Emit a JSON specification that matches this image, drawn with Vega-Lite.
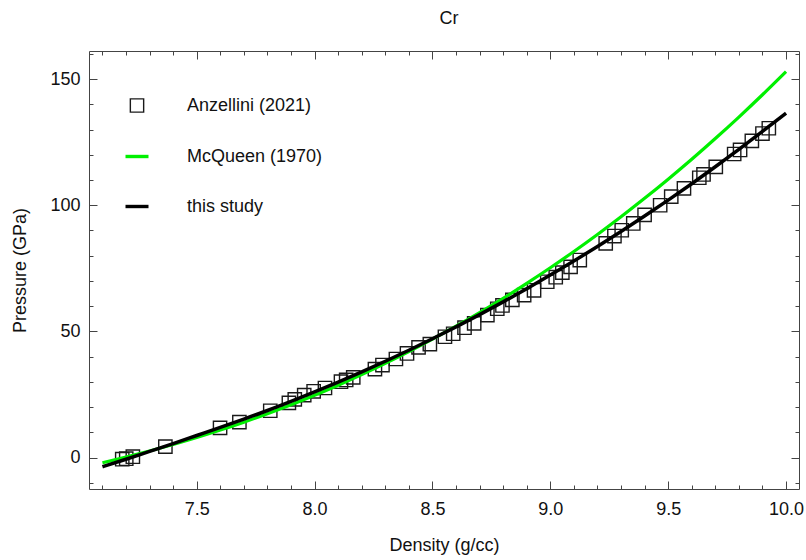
{
  "$schema": "https://vega.github.io/schema/vega-lite/v6.json",
  "width": 710,
  "height": 438,
  "autosize": "none",
  "padding": {"left": 89, "top": 51, "right": 7, "bottom": 71},
  "background": "white",
  "title": {"text": "Cr", "fontSize": 18, "font": "Liberation Sans", "fontWeight": "normal", "color": "#111", "baseline": "alphabetic", "offset": 3, "dx": 5},
  "config": {
    "view": {"stroke": null},
    "axis": {"labelFont": "Liberation Sans", "titleFont": "Liberation Sans", "labelFontSize": 18, "titleFontSize": 18, "titleFontWeight": "normal", "domainColor": "#444", "tickColor": "#444", "labelColor": "#111", "titleColor": "#111", "grid": false, "tickWidth": 1, "domainWidth": 1, "labelOverlap": false, "labelFlush": false},
    "legend": {"labelFont": "Liberation Sans"}
  },
  "data": {"values": [
    {"density": 7.184, "pressure": -0.6, "series": "Anzellini (2021)"},
    {"density": 7.201, "pressure": -0.4, "series": "Anzellini (2021)"},
    {"density": 7.229, "pressure": 0.4, "series": "Anzellini (2021)"},
    {"density": 7.367, "pressure": 4.4, "series": "Anzellini (2021)"},
    {"density": 7.599, "pressure": 11.8, "series": "Anzellini (2021)"},
    {"density": 7.681, "pressure": 14.1, "series": "Anzellini (2021)"},
    {"density": 7.812, "pressure": 18.6, "series": "Anzellini (2021)"},
    {"density": 7.891, "pressure": 21.7, "series": "Anzellini (2021)"},
    {"density": 7.916, "pressure": 23.1, "series": "Anzellini (2021)"},
    {"density": 7.956, "pressure": 24.8, "series": "Anzellini (2021)"},
    {"density": 7.996, "pressure": 26.3, "series": "Anzellini (2021)"},
    {"density": 8.044, "pressure": 27.6, "series": "Anzellini (2021)"},
    {"density": 8.112, "pressure": 30.1, "series": "Anzellini (2021)"},
    {"density": 8.134, "pressure": 30.8, "series": "Anzellini (2021)"},
    {"density": 8.164, "pressure": 31.8, "series": "Anzellini (2021)"},
    {"density": 8.256, "pressure": 35.1, "series": "Anzellini (2021)"},
    {"density": 8.288, "pressure": 36.7, "series": "Anzellini (2021)"},
    {"density": 8.345, "pressure": 39.1, "series": "Anzellini (2021)"},
    {"density": 8.392, "pressure": 41.3, "series": "Anzellini (2021)"},
    {"density": 8.441, "pressure": 43.7, "series": "Anzellini (2021)"},
    {"density": 8.489, "pressure": 45.0, "series": "Anzellini (2021)"},
    {"density": 8.553, "pressure": 47.9, "series": "Anzellini (2021)"},
    {"density": 8.588, "pressure": 49.1, "series": "Anzellini (2021)"},
    {"density": 8.636, "pressure": 51.5, "series": "Anzellini (2021)"},
    {"density": 8.677, "pressure": 53.2, "series": "Anzellini (2021)"},
    {"density": 8.733, "pressure": 56.5, "series": "Anzellini (2021)"},
    {"density": 8.775, "pressure": 59.0, "series": "Anzellini (2021)"},
    {"density": 8.797, "pressure": 60.3, "series": "Anzellini (2021)"},
    {"density": 8.839, "pressure": 62.5, "series": "Anzellini (2021)"},
    {"density": 8.889, "pressure": 64.4, "series": "Anzellini (2021)"},
    {"density": 8.931, "pressure": 66.3, "series": "Anzellini (2021)"},
    {"density": 8.987, "pressure": 69.7, "series": "Anzellini (2021)"},
    {"density": 9.023, "pressure": 71.5, "series": "Anzellini (2021)"},
    {"density": 9.051, "pressure": 73.3, "series": "Anzellini (2021)"},
    {"density": 9.086, "pressure": 75.6, "series": "Anzellini (2021)"},
    {"density": 9.125, "pressure": 78.3, "series": "Anzellini (2021)"},
    {"density": 9.235, "pressure": 84.9, "series": "Anzellini (2021)"},
    {"density": 9.272, "pressure": 87.8, "series": "Anzellini (2021)"},
    {"density": 9.303, "pressure": 90.1, "series": "Anzellini (2021)"},
    {"density": 9.352, "pressure": 92.8, "series": "Anzellini (2021)"},
    {"density": 9.400, "pressure": 96.2, "series": "Anzellini (2021)"},
    {"density": 9.466, "pressure": 100.0, "series": "Anzellini (2021)"},
    {"density": 9.513, "pressure": 103.4, "series": "Anzellini (2021)"},
    {"density": 9.567, "pressure": 106.7, "series": "Anzellini (2021)"},
    {"density": 9.632, "pressure": 110.9, "series": "Anzellini (2021)"},
    {"density": 9.650, "pressure": 112.2, "series": "Anzellini (2021)"},
    {"density": 9.702, "pressure": 115.2, "series": "Anzellini (2021)"},
    {"density": 9.780, "pressure": 120.3, "series": "Anzellini (2021)"},
    {"density": 9.805, "pressure": 121.9, "series": "Anzellini (2021)"},
    {"density": 9.855, "pressure": 125.5, "series": "Anzellini (2021)"},
    {"density": 9.900, "pressure": 128.4, "series": "Anzellini (2021)"},
    {"density": 9.927, "pressure": 130.5, "series": "Anzellini (2021)"},
    {"density": 7.1, "pressure": -2.0, "series": "McQueen (1970)"},
    {"density": 7.2, "pressure": 0.23, "series": "McQueen (1970)"},
    {"density": 7.3, "pressure": 2.63, "series": "McQueen (1970)"},
    {"density": 7.4, "pressure": 5.21, "series": "McQueen (1970)"},
    {"density": 7.5, "pressure": 7.97, "series": "McQueen (1970)"},
    {"density": 7.6, "pressure": 10.93, "series": "McQueen (1970)"},
    {"density": 7.7, "pressure": 14.08, "series": "McQueen (1970)"},
    {"density": 7.8, "pressure": 17.43, "series": "McQueen (1970)"},
    {"density": 7.9, "pressure": 20.98, "series": "McQueen (1970)"},
    {"density": 8.0, "pressure": 24.75, "series": "McQueen (1970)"},
    {"density": 8.1, "pressure": 28.73, "series": "McQueen (1970)"},
    {"density": 8.2, "pressure": 32.94, "series": "McQueen (1970)"},
    {"density": 8.3, "pressure": 37.37, "series": "McQueen (1970)"},
    {"density": 8.4, "pressure": 42.04, "series": "McQueen (1970)"},
    {"density": 8.5, "pressure": 46.95, "series": "McQueen (1970)"},
    {"density": 8.6, "pressure": 52.09, "series": "McQueen (1970)"},
    {"density": 8.7, "pressure": 57.49, "series": "McQueen (1970)"},
    {"density": 8.8, "pressure": 63.15, "series": "McQueen (1970)"},
    {"density": 8.9, "pressure": 69.06, "series": "McQueen (1970)"},
    {"density": 9.0, "pressure": 75.24, "series": "McQueen (1970)"},
    {"density": 9.1, "pressure": 81.69, "series": "McQueen (1970)"},
    {"density": 9.2, "pressure": 88.42, "series": "McQueen (1970)"},
    {"density": 9.3, "pressure": 95.44, "series": "McQueen (1970)"},
    {"density": 9.4, "pressure": 102.74, "series": "McQueen (1970)"},
    {"density": 9.5, "pressure": 110.33, "series": "McQueen (1970)"},
    {"density": 9.6, "pressure": 118.22, "series": "McQueen (1970)"},
    {"density": 9.7, "pressure": 126.43, "series": "McQueen (1970)"},
    {"density": 9.8, "pressure": 134.93, "series": "McQueen (1970)"},
    {"density": 9.9, "pressure": 143.76, "series": "McQueen (1970)"},
    {"density": 10.0, "pressure": 152.91, "series": "McQueen (1970)"},
    {"density": 7.1, "pressure": -3.6, "series": "this study"},
    {"density": 7.2, "pressure": -0.6, "series": "this study"},
    {"density": 7.3, "pressure": 2.5, "series": "this study"},
    {"density": 7.4, "pressure": 5.6, "series": "this study"},
    {"density": 7.5, "pressure": 8.8, "series": "this study"},
    {"density": 7.6, "pressure": 12.0, "series": "this study"},
    {"density": 7.7, "pressure": 15.3, "series": "this study"},
    {"density": 7.8, "pressure": 18.7, "series": "this study"},
    {"density": 7.9, "pressure": 22.3, "series": "this study"},
    {"density": 8.0, "pressure": 26.05, "series": "this study"},
    {"density": 8.1, "pressure": 29.94, "series": "this study"},
    {"density": 8.2, "pressure": 33.99, "series": "this study"},
    {"density": 8.3, "pressure": 38.2, "series": "this study"},
    {"density": 8.4, "pressure": 42.57, "series": "this study"},
    {"density": 8.5, "pressure": 47.11, "series": "this study"},
    {"density": 8.6, "pressure": 51.81, "series": "this study"},
    {"density": 8.7, "pressure": 56.68, "series": "this study"},
    {"density": 8.8, "pressure": 61.73, "series": "this study"},
    {"density": 8.9, "pressure": 66.94, "series": "this study"},
    {"density": 9.0, "pressure": 72.34, "series": "this study"},
    {"density": 9.1, "pressure": 77.91, "series": "this study"},
    {"density": 9.2, "pressure": 83.66, "series": "this study"},
    {"density": 9.3, "pressure": 89.6, "series": "this study"},
    {"density": 9.4, "pressure": 95.72, "series": "this study"},
    {"density": 9.5, "pressure": 102.03, "series": "this study"},
    {"density": 9.6, "pressure": 108.53, "series": "this study"},
    {"density": 9.7, "pressure": 115.24, "series": "this study"},
    {"density": 9.8, "pressure": 122.13, "series": "this study"},
    {"density": 9.9, "pressure": 129.22, "series": "this study"},
    {"density": 10.0, "pressure": 136.51, "series": "this study"}
  ]},
  "resolve": {"axis": {"x": "independent", "y": "independent"}},
  "layer": [
    {
      "transform": [{"filter": "datum.series === 'Anzellini (2021)'"}],
      "mark": {"type": "point", "filled": false, "size": 177, "strokeWidth": 1.4, "opacity": 1},
      "encoding": {
        "x": {"field": "density", "type": "quantitative",
          "scale": {"domain": [7.043, 10.055], "nice": false, "zero": false},
          "axis": {"orient": "bottom", "title": "Density (g/cc)",
            "values": [7.1,7.2,7.3,7.4,7.5,7.6,7.7,7.8,7.9,8.0,8.1,8.2,8.3,8.4,8.5,8.6,8.7,8.8,8.9,9.0,9.1,9.2,9.3,9.4,9.5,9.6,9.7,9.8,9.9,10.0],
            "labelExpr": "abs(datum.value*2 - round(datum.value*2)) < 0.001 ? format(datum.value, '.1f') : ''",
            "tickSize": {"condition": {"test": "abs(datum.value*2 - round(datum.value*2)) < 0.001", "value": -8}, "value": -4},
            "labelPadding": 19, "titlePadding": 14}},
        "y": {"field": "pressure", "type": "quantitative",
          "scale": {"domain": [-12.4, 161.1], "nice": false, "zero": false},
          "axis": {"orient": "left", "title": "Pressure (GPa)",
            "values": [-10,0,10,20,30,40,50,60,70,80,90,100,110,120,130,140,150,160],
            "labelExpr": "datum.value % 50 === 0 ? format(datum.value, 'd') : ''",
            "tickSize": {"condition": {"test": "datum.value % 50 === 0", "value": -8}, "value": -4},
            "labelPadding": 17, "titlePadding": 20}},
        "color": {"field": "series", "type": "nominal",
          "scale": {"domain": ["Anzellini (2021)", "McQueen (1970)", "this study"], "range": ["#1a1a1a", "#00f000", "#000000"]},
          "legend": {"title": null, "orient": "none", "legendX": 39, "legendY": 45.5, "direction": "vertical", "symbolSize": 529, "labelOffset": 41, "rowPadding": 32, "padding": 0, "labelFontSize": 18, "labelColor": "#111",
            "encode": {"symbols": {"update": {"fill": {"value": "transparent"}, "strokeWidth": {"signal": "datum.value === 'Anzellini (2021)' ? 1.4 : 3.4"}, "size": {"signal": "datum.value === 'Anzellini (2021)' ? 177 : 529"}}}}}},
        "shape": {"field": "series", "type": "nominal",
          "scale": {"domain": ["Anzellini (2021)", "McQueen (1970)", "this study"], "range": ["square", "stroke", "stroke"]},
          "legend": {"title": null, "orient": "none", "legendX": 39, "legendY": 45.5, "direction": "vertical", "symbolSize": 529, "labelOffset": 41, "rowPadding": 32, "padding": 0, "labelFontSize": 18, "labelColor": "#111",
            "encode": {"symbols": {"update": {"fill": {"value": "transparent"}, "strokeWidth": {"signal": "datum.value === 'Anzellini (2021)' ? 1.4 : 3.4"}, "size": {"signal": "datum.value === 'Anzellini (2021)' ? 177 : 529"}}}}}}
      }
    },
    {
      "transform": [{"filter": "datum.series === 'McQueen (1970)'"}],
      "mark": {"type": "line", "strokeWidth": 3.2, "interpolate": "monotone"},
      "encoding": {
        "x": {"field": "density", "type": "quantitative",
          "axis": {"orient": "top", "title": null, "labels": false,
            "values": [7.1,7.2,7.3,7.4,7.5,7.6,7.7,7.8,7.9,8.0,8.1,8.2,8.3,8.4,8.5,8.6,8.7,8.8,8.9,9.0,9.1,9.2,9.3,9.4,9.5,9.6,9.7,9.8,9.9,10.0],
            "tickSize": {"condition": {"test": "abs(datum.value*2 - round(datum.value*2)) < 0.001", "value": -8}, "value": -4}}},
        "y": {"field": "pressure", "type": "quantitative",
          "axis": {"orient": "right", "title": null, "labels": false,
            "values": [-10,0,10,20,30,40,50,60,70,80,90,100,110,120,130,140,150,160],
            "tickSize": {"condition": {"test": "datum.value % 50 === 0", "value": -8}, "value": -4}}},
        "color": {"field": "series", "type": "nominal",
          "legend": {"title": null, "orient": "none", "legendX": 39, "legendY": 45.5, "direction": "vertical", "symbolSize": 529, "labelOffset": 41, "rowPadding": 32, "padding": 0, "labelFontSize": 18, "labelColor": "#111",
            "encode": {"symbols": {"update": {"fill": {"value": "transparent"}, "strokeWidth": {"signal": "datum.value === 'Anzellini (2021)' ? 1.4 : 3.4"}, "size": {"signal": "datum.value === 'Anzellini (2021)' ? 177 : 529"}}}}}}
      }
    },
    {
      "transform": [{"filter": "datum.series === 'this study'"}],
      "mark": {"type": "line", "strokeWidth": 3.5, "interpolate": "monotone"},
      "encoding": {
        "x": {"field": "density", "type": "quantitative", "axis": null},
        "y": {"field": "pressure", "type": "quantitative", "axis": null},
        "color": {"field": "series", "type": "nominal",
          "legend": {"title": null, "orient": "none", "legendX": 39, "legendY": 45.5, "direction": "vertical", "symbolSize": 529, "labelOffset": 41, "rowPadding": 32, "padding": 0, "labelFontSize": 18, "labelColor": "#111",
            "encode": {"symbols": {"update": {"fill": {"value": "transparent"}, "strokeWidth": {"signal": "datum.value === 'Anzellini (2021)' ? 1.4 : 3.4"}, "size": {"signal": "datum.value === 'Anzellini (2021)' ? 177 : 529"}}}}}}
      }
    }
  ]
}
